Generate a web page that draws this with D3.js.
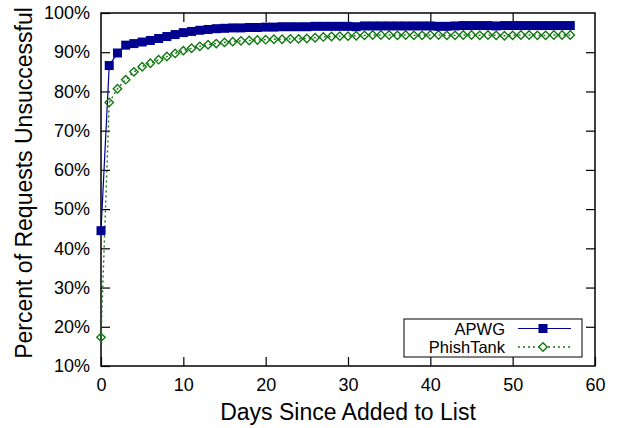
<!DOCTYPE html>
<html>
<head>
<meta charset="utf-8">
<script src="https://cdn.jsdelivr.net/npm/d3@7"></script>
<style>
  body { margin: 0; background: #fff; }
  svg text { font-family: "Liberation Sans", Arial, sans-serif; fill: #000; }
</style>
</head>
<body>
<div id="chart"></div>
<script>

// days since added to list
var days = d3.range(0, 58)

var apwg = [44.5, 86.6, 89.8, 91.8, 92.2, 92.6, 93.0, 93.5, 94.0, 94.5,
	95.0, 95.3, 95.6, 95.8, 96.0, 96.1, 96.2, 96.2, 96.3, 96.3,
	96.4, 96.4, 96.5, 96.5, 96.5, 96.5, 96.6, 96.6, 96.6, 96.6,
	96.6, 96.5, 96.7, 96.7, 96.7, 96.7, 96.7, 96.7, 96.7, 96.7,
	96.7, 96.6, 96.6, 96.7, 96.8, 96.8, 96.8, 96.8, 96.7, 96.8,
	96.8, 96.8, 96.8, 96.8, 96.8, 96.8, 96.8, 96.8]

var phishtank = [17.3, 77.2, 80.7, 83.0, 85.0, 86.3, 87.2, 88.1, 88.9, 89.7,
	90.4, 91.0, 91.5, 91.9, 92.2, 92.5, 92.7, 92.9, 93.0, 93.1,
	93.2, 93.3, 93.3, 93.4, 93.4, 93.5, 93.7, 93.9, 94.0, 94.1,
	94.1, 94.2, 94.3, 94.4, 94.4, 94.4, 94.3, 94.4, 94.3, 94.3,
	94.4, 94.4, 94.3, 94.3, 94.4, 94.4, 94.3, 94.4, 94.3, 94.2,
	94.3, 94.4, 94.4, 94.3, 94.3, 94.4, 94.4, 94.4]

var xTicks = [0, 10, 20, 30, 40, 50, 60]
var yTicks = [10, 20, 30, 40, 50, 60, 70, 80, 90, 100]

var seriesNames = ["APWG", "PhishTank"]

var width = 618, height = 428
var margin = { top: 13, right: 23, bottom: 62, left: 101 }

var svg = d3.select("#chart").append("svg")
	.attr("width", width)
	.attr("height", height)

var x = d3.scaleLinear().domain([0, 60]).range([margin.left, width - margin.right])
var y = d3.scaleLinear().domain([10, 100]).range([height - margin.bottom, margin.top])

var tickLen = 9
var tickFont = 18

// bottom axis + mirrored top ticks
svg.append("g")
	.attr("transform", `translate(0,${y(10)})`)
	.call(d3.axisBottom(x).tickValues(xTicks).tickSizeInner(-tickLen).tickSizeOuter(0).tickPadding(12))
	.call(g => g.select(".domain").remove())
	.call(g => g.selectAll("text").attr("font-size", tickFont))

svg.append("g")
	.attr("transform", `translate(0,${y(100)})`)
	.call(d3.axisTop(x).tickValues(xTicks.slice(1, -1)).tickSizeInner(-tickLen).tickSizeOuter(0))
	.call(g => g.select(".domain").remove())
	.call(g => g.selectAll("text").remove())

// left axis + mirrored right ticks
svg.append("g")
	.attr("transform", `translate(${x(0)},0)`)
	.call(d3.axisLeft(y).tickValues(yTicks).tickSizeInner(-tickLen).tickSizeOuter(0).tickPadding(11)
		.tickFormat(d => d + "%"))
	.call(g => g.select(".domain").remove())
	.call(g => g.selectAll("text").attr("font-size", tickFont))

svg.append("g")
	.attr("transform", `translate(${x(60)},0)`)
	.call(d3.axisRight(y).tickValues(yTicks.slice(1, -1)).tickSizeInner(-tickLen).tickSizeOuter(0))
	.call(g => g.select(".domain").remove())
	.call(g => g.selectAll("text").remove())

svg.selectAll(".tick line").attr("stroke", "#000").attr("stroke-width", 1.2)

// frame
svg.append("rect")
	.attr("x", x(0)).attr("y", y(100))
	.attr("width", x(60) - x(0)).attr("height", y(10) - y(100))
	.attr("fill", "none").attr("stroke", "#000").attr("stroke-width", 1.5)

// axis titles
svg.append("text")
	.attr("x", (x(0) + x(60)) / 2)
	.attr("y", 420)
	.attr("text-anchor", "middle")
	.attr("font-size", 23)
	.text("Days Since Added to List")

svg.append("text")
	.attr("transform", `translate(32,183) rotate(-90)`)
	.attr("text-anchor", "middle")
	.attr("font-size", 23)
	.text("Percent of Requests Unsuccessful")

var blue = "#000090", green = "#137a13"

var line = d3.line().x((d, i) => x(days[i])).y(d => y(d))

svg.append("path")
	.datum(phishtank)
	.attr("d", line)
	.attr("fill", "none")
	.attr("stroke", green)
	.attr("stroke-width", 1.4)
	.attr("stroke-dasharray", "2,3")

svg.append("path")
	.datum(apwg)
	.attr("d", line)
	.attr("fill", "none")
	.attr("stroke", blue)
	.attr("stroke-width", 1.2)

var diamond = (cx, cy, r) => `M${cx},${cy - r}L${cx + r},${cy}L${cx},${cy + r}L${cx - r},${cy}Z`

svg.append("g").selectAll("path")
	.data(phishtank)
	.enter().append("path")
	.attr("d", (d, i) => diamond(x(days[i]), y(d), 4.2))
	.attr("fill", "none")
	.attr("stroke", green)
	.attr("stroke-width", 1.4)

svg.append("g").selectAll("rect")
	.data(apwg)
	.enter().append("rect")
	.attr("x", (d, i) => x(days[i]) - 4.5)
	.attr("y", d => y(d) - 4.5)
	.attr("width", 9)
	.attr("height", 9)
	.attr("fill", blue)

// legend
var legend = svg.append("g")

legend.append("rect")
	.attr("x", 404).attr("y", 319)
	.attr("width", 178).attr("height", 38)
	.attr("fill", "#fff").attr("stroke", "#000").attr("stroke-width", 1)

var rows = [
	{ name: seriesNames[0], color: blue, dash: null },
	{ name: seriesNames[1], color: green, dash: "2,3" }
]

rows.forEach(function(r, i) {

	var ly = 328.5 + i * 18.5

	legend.append("text")
		.attr("x", 505).attr("y", ly + 6)
		.attr("text-anchor", "end")
		.attr("font-size", 16.5)
		.text(r.name)

	legend.append("line")
		.attr("x1", 518).attr("x2", 571)
		.attr("y1", ly).attr("y2", ly)
		.attr("stroke", r.color)
		.attr("stroke-width", i == 0 ? 1.2 : 1.4)
		.attr("stroke-dasharray", r.dash)

	if (i == 0) {
		legend.append("rect")
			.attr("x", 543 - 4.5).attr("y", ly - 4.5)
			.attr("width", 9).attr("height", 9)
			.attr("fill", blue)
	} else {
		legend.append("path")
			.attr("d", diamond(543, ly, 4.2))
			.attr("fill", "#fff")
			.attr("stroke", green)
			.attr("stroke-width", 1.4)
	}

})

</script>
</body>
</html>
